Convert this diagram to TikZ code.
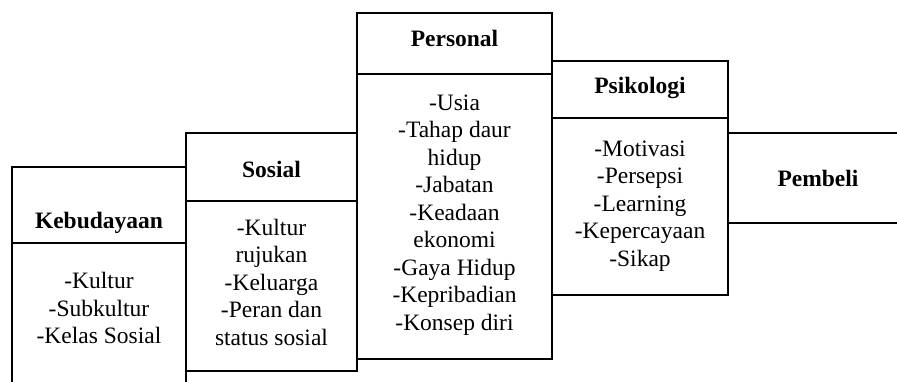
\documentclass[tikz,border=0pt]{standalone}
\usepackage{fontspec}
\setmainfont{Liberation Serif}
\begin{document}
\begin{tikzpicture}[x=1pt,y=-1pt,
  frame/.style={draw=black, line width=2.6pt, inner sep=0pt, outer sep=0pt},
  slot/.style={inner sep=0pt, outer sep=0pt},
  divider/.style={draw=black, line width=1.4pt},
  title/.style={font=\fontsize{23.5}{27.5}\selectfont\bfseries, anchor=base, inner sep=0pt},
  items/.style={font=\fontsize{23.5}{27.5}\selectfont, align=center, anchor=base, inner sep=0pt}]
\useasboundingbox (0,0) rectangle (897,381);
\clip (0,0) rectangle (897,381);

% Kebudayaan (open at the bottom edge)
\node[frame, minimum width=174pt, minimum height=253pt] (keb) at (99,293.5) {};
\node[slot, minimum width=174pt, minimum height=76pt] (kebH) at (99,205) {};
\draw[divider] (kebH.south west) -- (kebH.south east);
\node[title] (kebT) at (99,228.3) {Kebudayaan};
% list nodes are placed by the baseline of their last line
\node[items] (kebL) at (99,343.5) {-Kultur\\-Subkultur\\-Kelas Sosial};

% Sosial
\node[frame, minimum width=171pt, minimum height=238pt] (sos) at (271.5,252) {};
\node[slot, minimum width=171pt, minimum height=68pt] (sosH) at (271.5,167) {};
\draw[divider] (sosH.south west) -- (sosH.south east);
\node[title] (sosT) at (271.5,177) {Sosial};
\node[items] (sosL) at (271.5,345) {-Kultur\\rujukan\\-Keluarga\\-Peran dan\\status sosial};

% Personal
\node[frame, minimum width=195pt, minimum height=346pt] (per) at (454.5,186) {};
\node[slot, minimum width=195pt, minimum height=61pt] (perH) at (454.5,43.5) {};
\draw[divider] (perH.south west) -- (perH.south east);
\node[title] (perT) at (454.5,46.7) {Personal};
\node[items] (perL) at (454.5,330) {-Usia\\-Tahap daur\\hidup\\-Jabatan\\-Keadaan\\ekonomi\\-Gaya Hidup\\-Kepribadian\\-Konsep diri};

% Psikologi
\node[frame, minimum width=176pt, minimum height=234pt] (psi) at (640,178) {};
\node[slot, minimum width=176pt, minimum height=57pt] (psiH) at (640,89.5) {};
\draw[divider] (psiH.south west) -- (psiH.south east);
\node[title] (psiT) at (640,93) {Psikologi};
\node[items] (psiL) at (640,266) {-Motivasi\\-Persepsi\\-Learning\\-Kepercayaan\\-Sikap};

% Pembeli (open at the right edge)
\node[frame, minimum width=202pt, minimum height=90pt] (pem) at (829,178) {};
\node[title] (pemT) at (818,186.7) {Pembeli};
\end{tikzpicture}
\end{document}
